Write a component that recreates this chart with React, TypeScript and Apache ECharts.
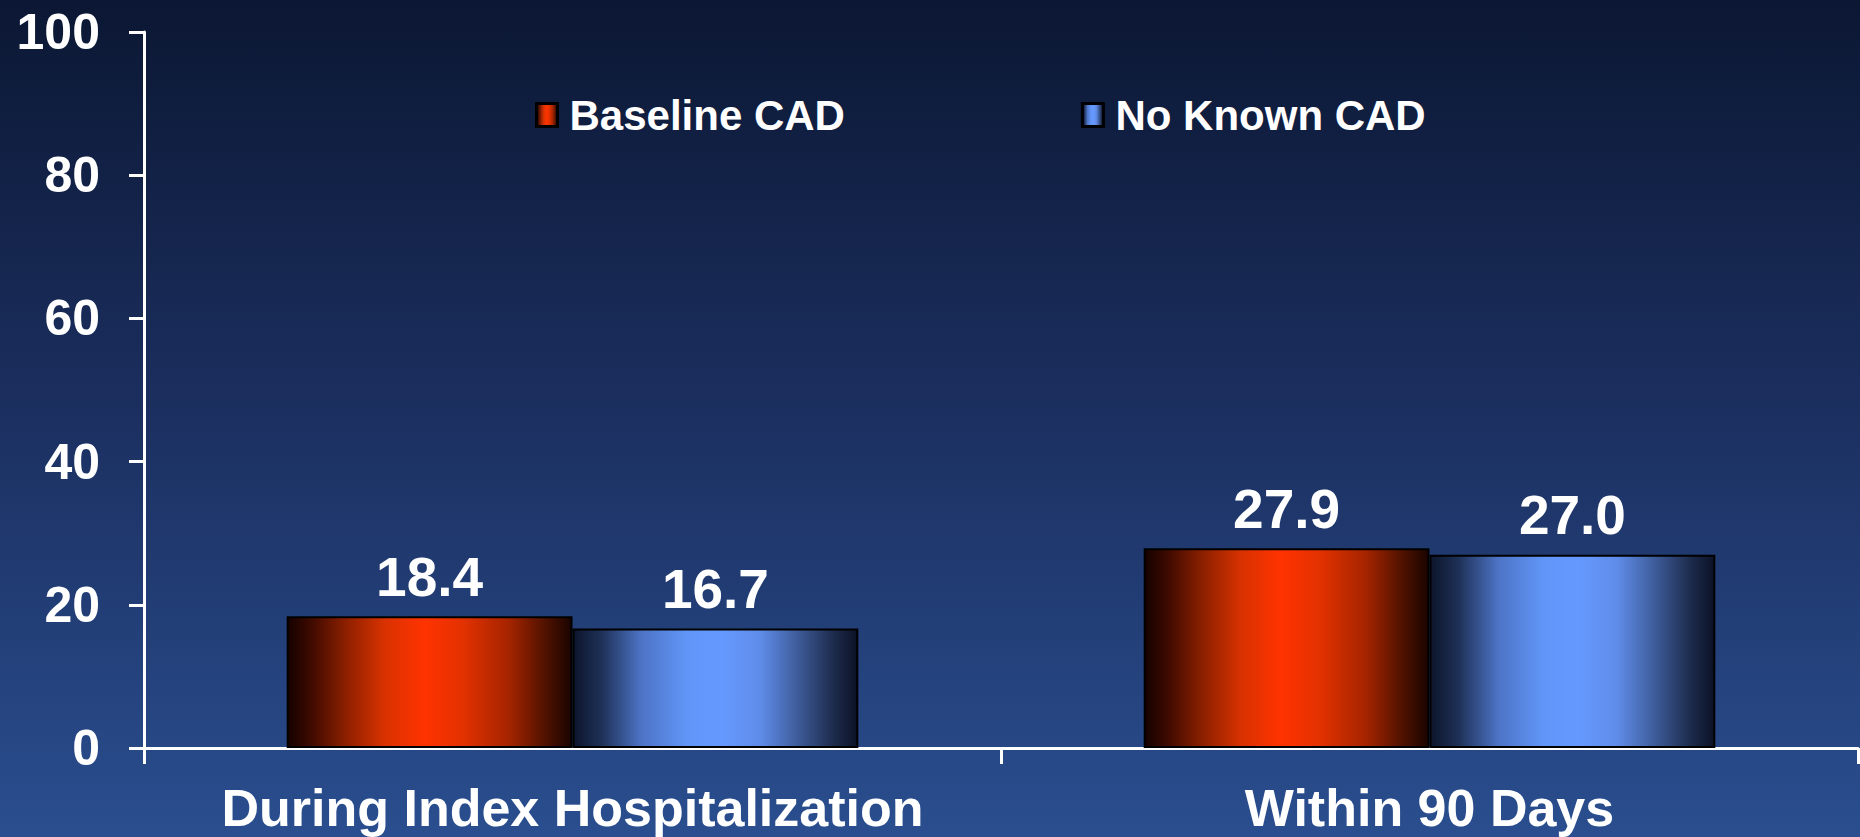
import React, { useEffect, useRef } from "react";
import * as echarts from "echarts";

// Categories, series and axis ticks
const categories = ["During Index Hospitalization", "Within 90 Days"];
const seriesNames = ["Baseline CAD", "No Known CAD"];
const baselineCad = [18.4, 27.9];
const noKnownCad = [16.7, 27.0];
const yTicks = [0, 20, 40, 60, 80, 100];

const FONT = 'Arial, "Liberation Sans", Helvetica, sans-serif';

// Horizontal shading so each bar looks like a lit cylinder
const redFill = new echarts.graphic.LinearGradient(0, 0, 1, 0, [
  { offset: 0, color: "#150200" },
  { offset: 0.08, color: "#3d0a00" },
  { offset: 0.2, color: "#8a1f00" },
  { offset: 0.34, color: "#d83200" },
  { offset: 0.48, color: "#ff3300" },
  { offset: 0.62, color: "#e23100" },
  { offset: 0.78, color: "#a52400" },
  { offset: 0.9, color: "#551300" },
  { offset: 1, color: "#1a0400" },
]);

const blueFill = new echarts.graphic.LinearGradient(0, 0, 1, 0, [
  { offset: 0, color: "#0c152b" },
  { offset: 0.1, color: "#1f3158" },
  { offset: 0.24, color: "#4d74c6" },
  { offset: 0.4, color: "#6196f8" },
  { offset: 0.52, color: "#6699ff" },
  { offset: 0.66, color: "#5f8ce8" },
  { offset: 0.8, color: "#3b5894" },
  { offset: 0.92, color: "#1c2a4a" },
  { offset: 1, color: "#0b1226" },
]);

export default function App() {
  const ref = useRef<HTMLDivElement>(null);

  useEffect(() => {
    if (!ref.current) return;
    const chart = echarts.init(ref.current, undefined, { renderer: "svg" });

    const labelStyle = {
      show: true,
      position: "top" as const,
      distance: 12,
      color: "#ffffff",
      fontFamily: FONT,
      fontWeight: "bold" as const,
      fontSize: 55,
      formatter: (p: any) => Number(p.value).toFixed(1),
    };

    chart.setOption({
      animation: false,
      backgroundColor: new echarts.graphic.LinearGradient(0, 0, 0, 1, [
        { offset: 0, color: "#0b1733" },
        { offset: 0.45, color: "#1a2d5c" },
        { offset: 1, color: "#2a4e8f" },
      ]),
      textStyle: { fontFamily: FONT },
      legend: {
        data: seriesNames,
        icon: "rect",
        left: 530,
        top: 89,
        itemWidth: 21,
        itemHeight: 23,
        itemGap: 236,
        itemStyle: { borderColor: "#000000", borderWidth: 3 },
        textStyle: {
          color: "#ffffff",
          fontFamily: FONT,
          fontWeight: "bold",
          fontSize: 42,
          padding: [0, 0, 0, 7],
        },
      },
      grid: { left: 144, right: 2, top: 32, bottom: 89, containLabel: false },
      xAxis: {
        type: "category",
        data: categories,
        axisLine: { lineStyle: { color: "#ffffff", width: 3 } },
        axisTick: { show: true, length: 16, lineStyle: { color: "#ffffff", width: 3 } },
        axisLabel: {
          interval: 0,
          color: "#ffffff",
          fontFamily: FONT,
          fontWeight: "bold",
          fontSize: 52,
          margin: 34,
        },
        splitLine: { show: false },
      },
      yAxis: {
        type: "value",
        min: yTicks[0],
        max: yTicks[yTicks.length - 1],
        interval: yTicks[1] - yTicks[0],
        axisLine: { show: true, lineStyle: { color: "#ffffff", width: 3 } },
        axisTick: { show: true, length: 15, lineStyle: { color: "#ffffff", width: 3 } },
        axisLabel: {
          color: "#ffffff",
          fontFamily: FONT,
          fontWeight: "bold",
          fontSize: 50,
          margin: 44,
        },
        splitLine: { show: false },
      },
      series: [
        {
          name: seriesNames[0],
          type: "bar",
          data: baselineCad,
          barGap: "0%",
          barCategoryGap: "33.3%",
          itemStyle: { color: redFill, borderColor: "#000000", borderWidth: 2 },
          label: labelStyle,
        },
        {
          name: seriesNames[1],
          type: "bar",
          data: noKnownCad,
          barGap: "0%",
          barCategoryGap: "33.3%",
          itemStyle: { color: blueFill, borderColor: "#000000", borderWidth: 2 },
          label: labelStyle,
        },
      ],
    });

    return () => chart.dispose();
  }, []);

  return (
    <div
      ref={ref}
      style={{ position: "absolute", left: 0, top: 0, width: 1860, height: 837 }}
    />
  );
}
